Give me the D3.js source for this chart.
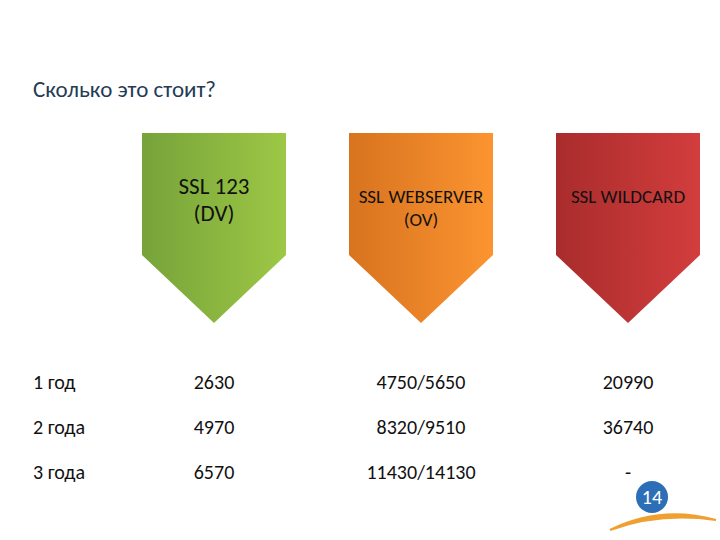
<!DOCTYPE html>
<html><head><meta charset="utf-8">
<script src="https://cdn.jsdelivr.net/npm/d3@7"></script>
<style>body{margin:0;background:#fff}text{font-family:Calibri,Carlito,Lato,sans-serif}</style>
</head><body><svg id="c" width="720" height="540"></svg>
<script>
const plans = [['SSL 123', '(DV)'], ['SSL WEBSERVER', '(OV)'], ['SSL WILDCARD']];
const planColors = [['#76a33a', '#9dc745'], ['#d8731f', '#fb9430'], ['#a92c2c', '#d33d3d']];
const years = ['1 год', '2 года', '3 года'];
const prices = [
  ['2630', '4750/5650', '20990'],
  ['4970', '8320/9510', '36740'],
  ['6570', '11430/14130', '-']
];

const svg = d3.select('#c');
const x = d3.scalePoint().domain(d3.range(plans.length)).range([214, 628]);
const y = d3.scalePoint().domain(years).range([382, 472]);

svg.append('text').attr('x', 33).attr('y', 97).attr('font-size', 23).attr('fill', '#243b55').text('Сколько это стоит?');

const defs = svg.append('defs');
planColors.forEach((c, i) => {
  let g = defs.append('linearGradient').attr('id', 'g' + i);
  g.append('stop').attr('offset', 0).attr('stop-color', c[0]);
  g.append('stop').attr('offset', 1).attr('stop-color', c[1]);
});

const hw = 72;
plans.forEach((p, i) => {
  let cx = x(i);
  svg.append('path')
    .attr('d', `M${cx - hw},133 H${cx + hw} V255 L${cx},323 L${cx - hw},255 Z`)
    .attr('fill', `url(#g${i})`);
  let big = i === 0;
  let fs = big ? 23 : 19;
  let y0 = p.length === 1 ? 203 : (big ? 194 : 203);
  let t = svg.append('text').attr('text-anchor', 'middle').attr('font-size', fs).attr('fill', '#111');
  p.forEach((line, j) => t.append('tspan').attr('x', cx).attr('y', y0 + j * (big ? 27 : 23)).text(line));
});

years.forEach((yr, r) => {
  svg.append('text').attr('x', 33).attr('y', y(yr) + 7).attr('font-size', 20).attr('fill', '#111').text(yr);
  prices[r].forEach((v, i) => {
    svg.append('text').attr('x', x(i)).attr('y', y(yr) + 7).attr('text-anchor', 'middle')
      .attr('font-size', 20).attr('fill', '#111').text(v);
  });
});

// logo
svg.append('path').attr('d', 'M610,530 Q660,505 716,520 Q660,512 610,530 Z').attr('fill', '#f0a030').attr('stroke', '#f0a030').attr('stroke-width', 2);
svg.append('circle').attr('cx', 652).attr('cy', 497).attr('r', 16).attr('fill', '#2d6fb7');
svg.append('text').attr('x', 652).attr('y', 504).attr('text-anchor', 'middle').attr('font-size', 20).attr('fill', '#fff').text('14');
</script></body></html>
